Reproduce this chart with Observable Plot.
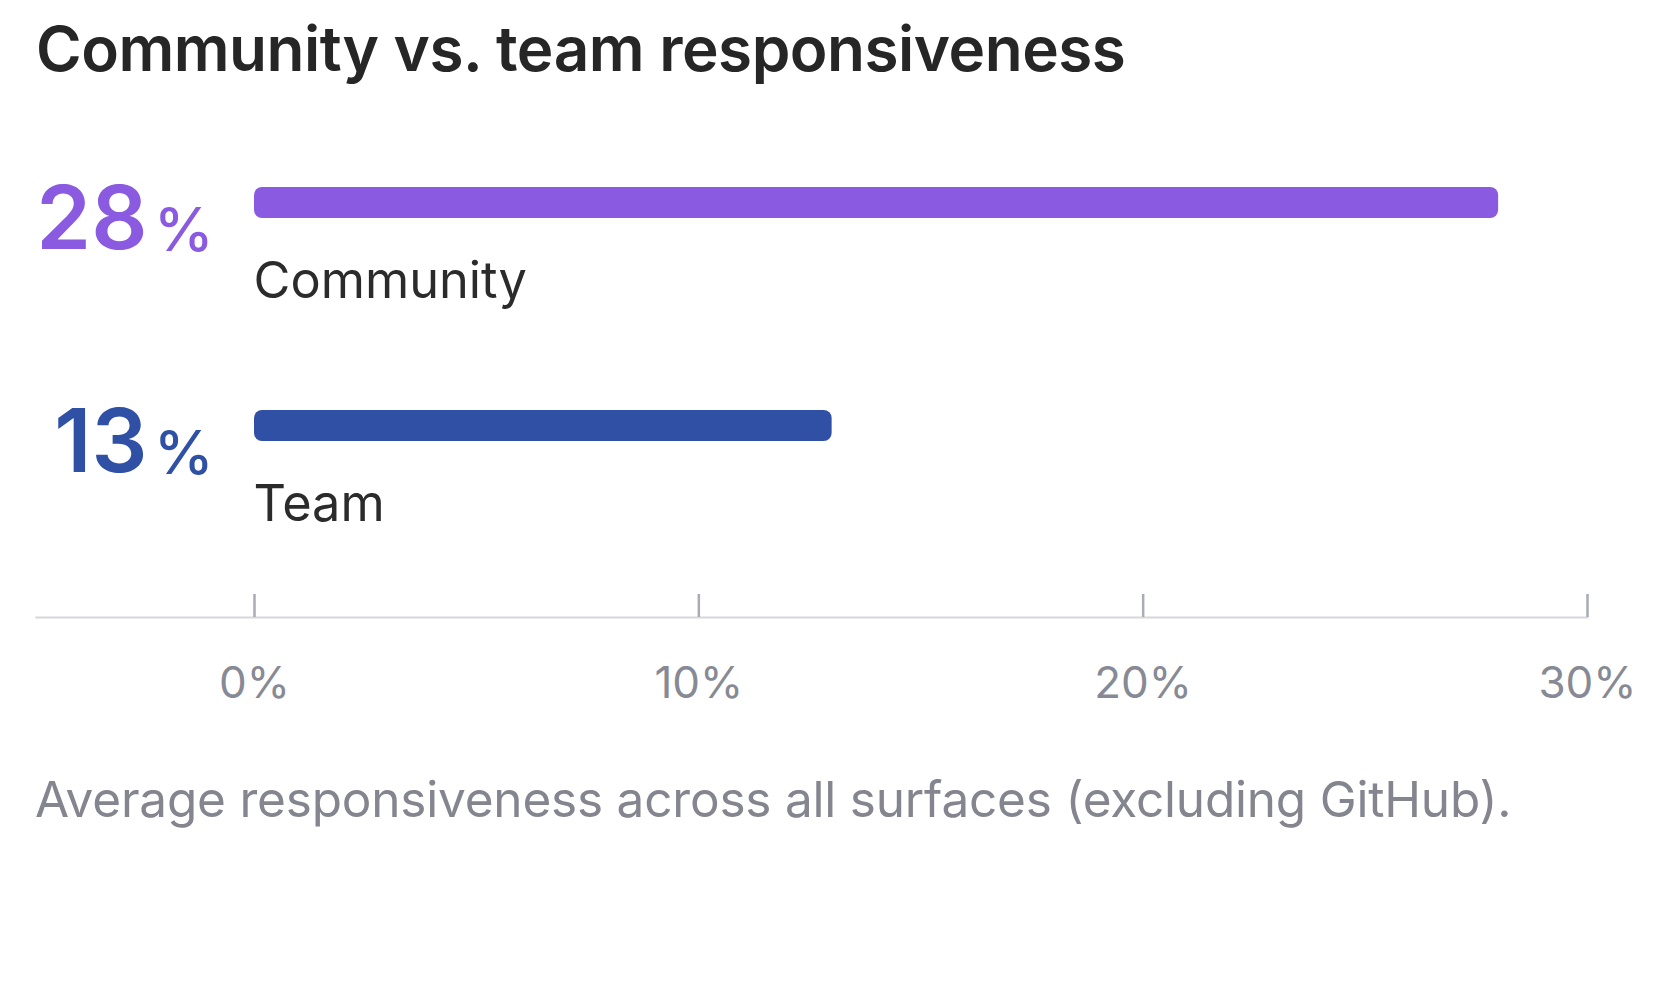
<!DOCTYPE html>
<html>
<head>
<meta charset="utf-8">
<script src="https://cdn.jsdelivr.net/npm/d3@7"></script>
<script src="https://cdn.jsdelivr.net/npm/@observablehq/plot@0.6"></script>
<style>
  html, body { margin: 0; padding: 0; background: #fff; }
  body { width: 1660px; font-family: Inter, "Noto Sans", sans-serif; }
  #title { height: 100px; line-height: 98px; font-size: 62px; font-weight: 600; color: #262626; padding-left: 36px; white-space: nowrap; letter-spacing: -0.5px; }
  #caption { margin-top: 50px; font-size: 49.5px; line-height: 1.2109; color: #84858f; padding-left: 35px; white-space: nowrap; letter-spacing: -0.2px; }
  #chart svg { display: block; overflow: visible; }
</style>
</head>
<body>
<div id="title">Community vs. team responsiveness</div>
<div id="chart"></div>
<div id="caption">Average responsiveness across all surfaces (excluding GitHub).</div>
<script>
const categories = ["Community", "Team"];
const values = [28, 13];
const xTicks = [0, 10, 20, 30];

const palette = ["#8a5be0", "#2f50a4"];
const data = categories.map((c, i) => ({ category: c, value: values[i] }));

const chart = Plot.plot({
  width: 1660,
  height: 620,
  marginLeft: 36,
  marginRight: 73,
  marginTop: 0,
  marginBottom: 103,
  x: { domain: [0, 30], range: [254, 1587], axis: null },
  y: { domain: categories, range: [87, 533], padding: 0, axis: null },
  color: { domain: categories, range: palette },
  style: { fontFamily: "Inter, 'Noto Sans', sans-serif", overflow: "visible", background: "transparent" },
  marks: [
    Plot.frame({ anchor: "bottom", stroke: "#d6d6dc", strokeWidth: 2 }),
    Plot.ruleX(xTicks, { x: d => d, insetTop: 494, stroke: "#a9abb5", strokeWidth: 2.5 }),
    Plot.text(xTicks, {
      x: d => d, text: d => `${d}%`, frameAnchor: "bottom", lineAnchor: "bottom",
      dy: 80, fontSize: 44, fill: "#878a94", letterSpacing: -1.5
    }),
    Plot.barX(data, { x: "value", y: "category", fill: "category", insetBottom: 192, rx: 8 }),
    Plot.text(data, {
      x: () => 0, y: "category", text: d => String(d.value), fill: "category",
      textAnchor: "end", lineAnchor: "bottom", dx: -107, dy: -50.5,
      fontSize: 88, fontWeight: 600, letterSpacing: -1
    }),
    Plot.text(data, {
      x: () => 0, y: "category", text: () => "%", fill: "category",
      textAnchor: "end", lineAnchor: "bottom", dx: -41, dy: -48.5,
      fontSize: 60, fontWeight: 500
    }),
    Plot.text(data, {
      x: () => 0, y: "category", text: "category", fill: "#2b2b2b",
      textAnchor: "start", lineAnchor: "bottom", dx: -1, dy: -1,
      fontSize: 50.5
    })
  ]
});
document.getElementById("chart").appendChild(chart);
</script>
</body>
</html>
